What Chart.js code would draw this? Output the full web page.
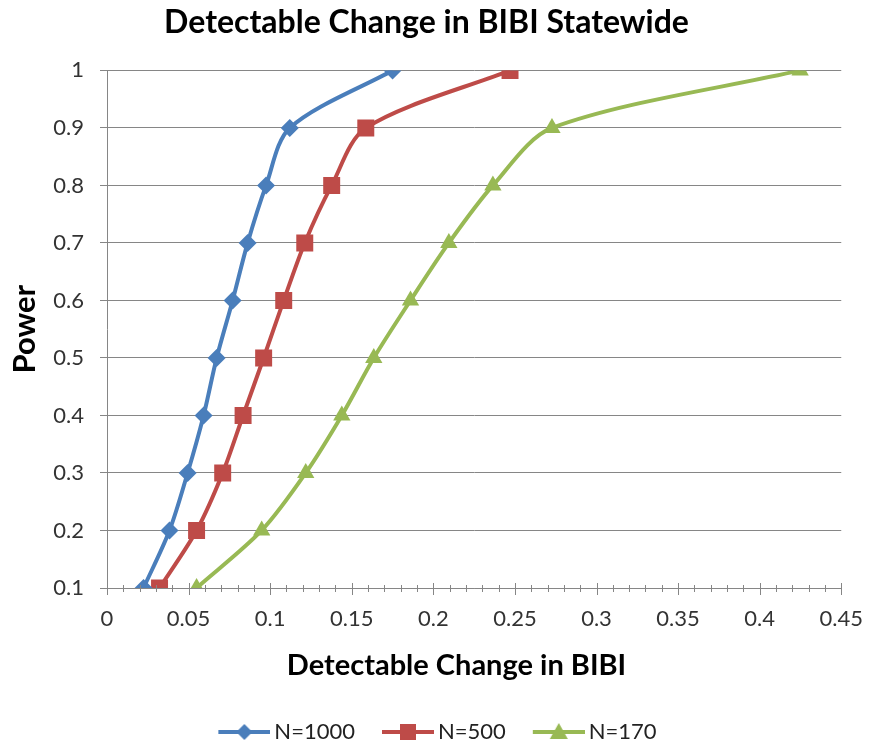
<!DOCTYPE html>
<html>
<head>
<meta charset="utf-8">
<script src="https://cdn.jsdelivr.net/npm/chart.js@4"></script>
<style>
  html, body { margin: 0; padding: 0; background: #fff; overflow: hidden; }
  #wrap { width: 869px; height: 753px; }
  canvas { display: block; }
</style>
</head>
<body>
<div id="wrap"><canvas id="powerChart"></canvas></div>
<script>
// power levels shared by all three sample sizes
const powerLevels = [0.1, 0.2, 0.3, 0.4, 0.5, 0.6, 0.7, 0.8, 0.9, 1.0];
// detectable change for each power level
const change1000 = [0.0224, 0.0383, 0.0494, 0.0592, 0.0672, 0.0770, 0.0862, 0.0975, 0.1120, 0.1750];
const change500  = [0.0322, 0.0549, 0.0709, 0.0834, 0.0960, 0.1083, 0.1212, 0.1377, 0.1586, 0.2470];
const change170  = [0.0549, 0.0948, 0.1218, 0.1439, 0.1635, 0.1860, 0.2095, 0.2365, 0.2727, 0.4248];
const seriesNames = ['N=1000', 'N=500', 'N=170'];

const FONT = 'Lato, "Open Sans", sans-serif';
const GRID = '#868686';

function pts(xs) {
  return xs.map((x, i) => ({ x, y: powerLevels[i] }));
}

// legend swatch: line with the marker in the middle, blank margin on the left
// so items get spaced out without growing the legend's vertical padding
function legendIcon(color, style) {
  const c = document.createElement('canvas');
  c.width = 81; c.height = 20;
  const g = c.getContext('2d');
  const x0 = 29, mid = x0 + 26, cy = 10;
  g.strokeStyle = color; g.lineWidth = 4;
  g.beginPath(); g.moveTo(x0, cy); g.lineTo(81, cy); g.stroke();
  g.fillStyle = color;
  g.beginPath();
  if (style === 'rectRot') {
    g.moveTo(mid, cy - 8); g.lineTo(mid + 8, cy); g.lineTo(mid, cy + 8); g.lineTo(mid - 8, cy);
  } else if (style === 'rect') {
    g.rect(mid - 8, cy - 8, 16, 16);
  } else {
    g.moveTo(mid, cy - 9); g.lineTo(mid + 9, cy + 7); g.lineTo(mid - 9, cy + 7);
  }
  g.closePath(); g.fill();
  return c;
}

const colors = ['#4A7EBB', '#BE4B48', '#98B954'];
const markers = ['rectRot', 'rect', 'triangle'];
const radii = [9, 12, 10];

// x-axis tick marks, major every 0.05 and minor every 0.01
const axisTicks = {
  id: 'axisTicks',
  afterDraw(chart) {
    const xs = chart.scales.x;
    const y0 = chart.chartArea.bottom;
    const ctx = chart.ctx;
    ctx.save();
    ctx.strokeStyle = GRID;
    ctx.lineWidth = 1;
    for (let i = 0; i <= 45; i++) {
      const px = Math.round(xs.getPixelForValue(i / 100)) + 0.5;
      const major = i % 5 === 0;
      ctx.beginPath();
      ctx.moveTo(px, y0 - (major ? 5 : 3));
      ctx.lineTo(px, y0 + (major ? 7 : 4));
      ctx.stroke();
    }
    ctx.restore();
  }
};

new Chart(document.getElementById('powerChart'), {
  type: 'scatter',
  data: {
    datasets: [change1000, change500, change170].map((xs, i) => ({
      label: seriesNames[i],
      data: pts(xs),
      showLine: true,
      borderColor: colors[i],
      backgroundColor: colors[i],
      borderWidth: 4,
      pointStyle: markers[i],
      pointRadius: radii[i],
      pointHoverRadius: radii[i],
      pointBorderWidth: 0,
      tension: 0.3
    }))
  },
  plugins: [axisTicks],
  options: {
    responsive: true,
    maintainAspectRatio: false,
    animation: false,
    layout: { padding: { left: 0, right: 16, top: 0, bottom: 0 } },
    plugins: {
      title: {
        display: true,
        text: 'Detectable Change in BIBI Statewide',
        color: '#000',
        font: { family: FONT, size: 32, weight: 'bold' },
        padding: { top: 3, bottom: 29 }
      },
      legend: {
        position: 'bottom',
        labels: {
          color: '#222',
          font: { family: FONT, size: 22 },
          usePointStyle: true,
          pointStyleWidth: 67,
          padding: 5,
          generateLabels: chart => chart.data.datasets.map((ds, i) => ({
            text: ds.label,
            datasetIndex: i,
            pointStyle: legendIcon(colors[i], markers[i]),
            fillStyle: colors[i],
            strokeStyle: colors[i],
            lineWidth: 0,
            fontColor: '#222',
            hidden: false
          }))
        }
      },
      tooltip: { enabled: false }
    },
    scales: {
      x: {
        type: 'linear',
        min: 0,
        max: 0.45,
        afterFit: s => { s.height = 128; },
        ticks: {
          stepSize: 0.05,
          color: '#333',
          font: { family: FONT, size: 22 },
          padding: 6,
          callback: v => Math.round(v * 100) / 100
        },
        // invisible tick length spaces the labels; the marks come from axisTicks
        grid: { drawOnChartArea: false, drawTicks: true, tickLength: 12, color: 'rgba(0,0,0,0)' },
        border: { color: GRID },
        title: {
          display: true,
          // trailing spaces nudge the centred title a little to the left
          text: 'Detectable Change in BIBI     ',
          color: '#000',
          font: { family: FONT, size: 29, weight: 'bold' },
          padding: { top: 0, bottom: 33 }
        }
      },
      y: {
        min: 0.1,
        max: 1,
        afterFit: s => { s.width = 107; },
        ticks: {
          stepSize: 0.1,
          color: '#333',
          font: { family: FONT, size: 22 },
          padding: 16,
          callback: v => Math.round(v * 10) / 10
        },
        grid: { color: GRID, tickLength: 7 },
        border: { color: GRID },
        title: {
          display: true,
          text: 'Power',
          color: '#000',
          font: { family: FONT, size: 31, weight: 'bold' },
          padding: { top: 6, bottom: 0 }
        }
      }
    }
  }
});
</script>
</body>
</html>
